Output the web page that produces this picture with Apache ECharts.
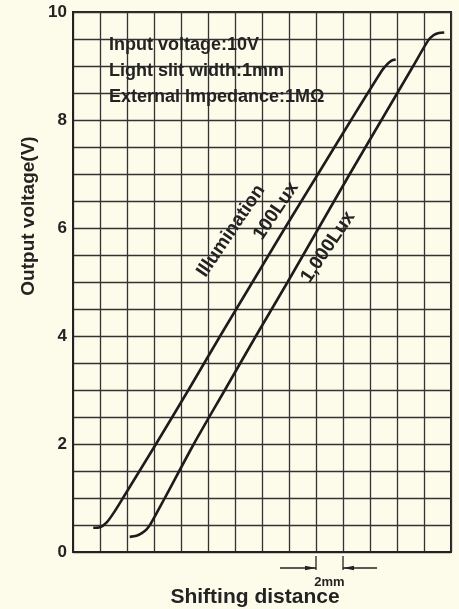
<!DOCTYPE html>
<html><head><meta charset="utf-8">
<script src="https://cdn.jsdelivr.net/npm/echarts@6/dist/echarts.min.js"></script>
<style>html,body{margin:0;padding:0;background:#fdfbea;}#c{width:459px;height:609px;}</style>
</head><body><div id="c"></div>
<script>
// Shifting distance (mm) and output voltage (V)
const lux100X = [1.5, 2.0, 2.5, 3.0, 3.7, 6.15, 8.55, 10.9, 13.3, 15.7, 18.15, 20.6, 22.9, 23.3, 23.6, 23.9];
const lux100Y = [0.45, 0.46, 0.55, 0.72, 1.0, 2.0, 3.0, 4.0, 5.0, 6.0, 7.0, 8.0, 8.92, 9.04, 9.1, 9.12];
const lux1000X = [4.2, 4.7, 5.1, 5.45, 5.75, 6.8, 8.95, 11.25, 13.55, 15.9, 18.2, 20.5, 22.85, 25.2, 26.3, 26.7, 27.1, 27.5];
const lux1000Y = [0.28, 0.30, 0.35, 0.42, 0.52, 1.0, 2.0, 3.0, 4.0, 5.0, 6.0, 7.0, 8.0, 9.0, 9.47, 9.57, 9.61, 9.62];
const yTickLabels = [0, 2, 4, 6, 8, 10];
const notes = ['Input voltage:10V', 'Light slit width:1mm', 'External Impedance:1MΩ'];
const curveLabels = ['Illumination', '100Lux', '1,000Lux'];
const scaleFrom = 18, scaleTo = 20, scaleText = '2mm';

const INK = '#232323';
const SANS = '"Liberation Sans",Arial,sans-serif';
const zip = (xs, ys) => xs.map((x, i) => [x, ys[i]]);

const chart = echarts.init(document.getElementById('c'), null, {renderer: 'canvas'});
const option = {
  backgroundColor: '#fdfbea',
  animation: false,
  grid: {left: 73, top: 12, width: 378, height: 540, show: true, borderColor: INK, borderWidth: 2, backgroundColor: 'transparent'},
  xAxis: {
    type: 'value', min: 0, max: 28, interval: 2,
    axisLabel: {show: false}, axisTick: {show: false},
    axisLine: {show: true, lineStyle: {color: INK, width: 2}},
    splitLine: {show: true, lineStyle: {color: '#333', width: 1.3}}
  },
  yAxis: {
    type: 'value', min: 0, max: 10, interval: 0.5,
    axisTick: {show: false},
    axisLine: {show: true, lineStyle: {color: INK, width: 2}},
    splitLine: {show: true, lineStyle: {color: '#333', width: 1.3}},
    axisLabel: {
      margin: 6, color: INK, fontWeight: 'bold', fontSize: 17, fontFamily: SANS,
      formatter: v => yTickLabels.includes(v) ? String(v) : ''
    }
  },
  series: [
    {type: 'line', data: zip(lux100X, lux100Y), showSymbol: false, symbol: 'none', smooth: 0.25,
     lineStyle: {color: '#1c1c1c', width: 2.6}, z: 5},
    {type: 'line', data: zip(lux1000X, lux1000Y), showSymbol: false, symbol: 'none', smooth: 0.25,
     lineStyle: {color: '#1c1c1c', width: 2.6}, z: 5}
  ]
};
chart.setOption(option);

const p18 = chart.convertToPixel({gridIndex: 0}, [scaleFrom, 0]);
const p20 = chart.convertToPixel({gridIndex: 0}, [scaleTo, 0]);
const yb = p18[1];
const rot = 56 * Math.PI / 180;
const noteStyle = {fontFamily: SANS, fontWeight: 'bold', fontSize: 18, fill: INK};
const curveStyle = {fontFamily: SANS, fontWeight: 'bold', fontSize: 19, fill: INK, align: 'center', verticalAlign: 'middle'};
const my = yb + 16;
chart.setOption({graphic: [
  {type: 'text', left: 109, top: 36, style: Object.assign({text: notes[0]}, noteStyle), z: 10},
  {type: 'text', left: 109, top: 62, style: Object.assign({text: notes[1]}, noteStyle), z: 10},
  {type: 'text', left: 109, top: 88, style: Object.assign({text: notes[2]}, noteStyle), z: 10},
  {type: 'text', x: 231, y: 231, rotation: rot, style: Object.assign({text: curveLabels[0]}, curveStyle), z: 10},
  {type: 'text', x: 276, y: 211, rotation: rot, style: Object.assign({text: curveLabels[1]}, curveStyle), z: 10},
  {type: 'text', x: 328, y: 247, rotation: rot, style: Object.assign({text: curveLabels[2]}, curveStyle), z: 10},
  {type: 'text', x: 29, y: 216, rotation: Math.PI / 2,
   style: {text: 'Output voltage(V)', fontFamily: SANS, fontWeight: 'bold', fontSize: 19, fill: INK, align: 'center', verticalAlign: 'middle'}},
  {type: 'text', x: 255, y: 597,
   style: {text: 'Shifting distance', fontFamily: SANS, fontWeight: 'bold', fontSize: 21, fill: INK, align: 'center', verticalAlign: 'middle'}},
  {type: 'line', shape: {x1: p18[0], y1: yb + 4, x2: p18[0], y2: yb + 18}, style: {stroke: INK, lineWidth: 1.3}},
  {type: 'line', shape: {x1: p20[0], y1: yb + 4, x2: p20[0], y2: yb + 18}, style: {stroke: INK, lineWidth: 1.3}},
  {type: 'line', shape: {x1: p18[0] - 36, y1: my, x2: p18[0], y2: my}, style: {stroke: INK, lineWidth: 1.3}},
  {type: 'line', shape: {x1: p20[0], y1: my, x2: p20[0] + 34, y2: my}, style: {stroke: INK, lineWidth: 1.3}},
  {type: 'polygon', shape: {points: [[p18[0], my], [p18[0] - 11, my - 2.2], [p18[0] - 11, my + 2.2]]}, style: {fill: INK}},
  {type: 'polygon', shape: {points: [[p20[0], my], [p20[0] + 11, my - 2.2], [p20[0] + 11, my + 2.2]]}, style: {fill: INK}},
  {type: 'text', x: (p18[0] + p20[0]) / 2, y: yb + 30,
   style: {text: scaleText, fontFamily: SANS, fontSize: 13, fontWeight: 'bold', fill: INK, align: 'center', verticalAlign: 'middle'}}
]});
</script></body></html>
